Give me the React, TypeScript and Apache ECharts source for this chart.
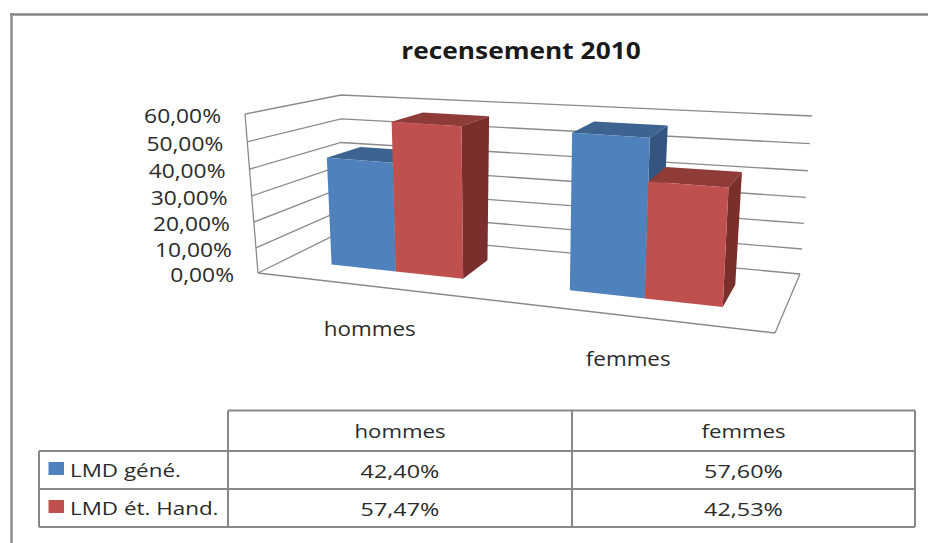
import React, { useEffect, useRef } from "react";
import * as echarts from "echarts";

const categories = ["hommes", "femmes"];
const seriesNames = ["LMD géné.", "LMD ét. Hand."];
const generalValues = [42.4, 57.6];
const handicapValues = [57.47, 42.53];
const yTicks = [0, 10, 20, 30, 40, 50, 60];
const titleText = "recensement 2010";

const FONT = "'Open Sans', sans-serif";
const INK = "#2b2b2b";
const GRID_LINE = "#8a8a8a";
const faces = [
  { front: "#4F81BD", top: "#3D6491", side: "#33557F" },
  { front: "#C0504D", top: "#8F3B38", side: "#7A2F2D" },
];

// flat helper grid: values go through the library's scales, then are projected to the 3D box
const G = { left: 100, top: 100, width: 500, height: 200 };
const P = {
  flb: [258, 273], flt: [245, 114],
  frb: [775, 333], frt: [785, 151],
  blb: [341, 232], blt: [341, 95],
  brb: [800, 274], brt: [812, 116],
};
const lerp = (a: number[], b: number[], k: number) => [a[0] + (b[0] - a[0]) * k, a[1] + (b[1] - a[1]) * k];
function project(t: number, v: number, w: number) {
  const u = t - 0.15 * t * (1 - t);
  const vv = v - 0.06 * v * (1 - v);
  const frontLow = lerp(P.flb, P.frb, u), frontHigh = lerp(P.flt, P.frt, u);
  const backLow = lerp(P.blb, P.brb, u), backHigh = lerp(P.blt, P.brt, u);
  return lerp(lerp(frontLow, frontHigh, vv), lerp(backLow, backHigh, vv), w);
}
const toT = (px: number) => (px - G.left) / G.width;
const toV = (py: number) => (G.top + G.height - py) / G.height;
const W_FRONT = 0.33, W_BACK = 0.72;

const pct = (n: number) => n.toFixed(2).replace(".", ",") + "%";

function label(text: string, x: number, y: number, size: number, align: string, scaleX = 1, weight = "normal", fill = INK) {
  return {
    type: "text", x, y, scaleX, silent: true,
    style: { text, fontFamily: FONT, fontSize: size, fontWeight: weight, fill, align, verticalAlign: "middle" },
  };
}
function seg(a: number[], b: number[], color = GRID_LINE, lineWidth = 1.3) {
  return { type: "line", shape: { x1: a[0], y1: a[1], x2: b[0], y2: b[1] }, style: { stroke: color, lineWidth } };
}

function barRender(seriesIdx: number) {
  return (params: any, api: any) => {
    const cat = api.value(0), val = api.value(1);
    const c = api.coord([cat, val]);
    const band = api.size([1, 0])[0];
    const barW = band / 3.5;
    const t0 = toT(c[0] + (seriesIdx - 1) * barW), t1 = toT(c[0] + seriesIdx * barW);
    const v = toV(c[1]);
    const f = faces[seriesIdx];
    const fa = project(t0, 0, W_FRONT), fb = project(t1, 0, W_FRONT);
    const fc = project(t1, v, W_FRONT), fd = project(t0, v, W_FRONT);
    const bb = project(t1, 0, W_BACK), bc = project(t1, v, W_BACK), bd = project(t0, v, W_BACK);
    return {
      type: "group",
      children: [
        { type: "polygon", shape: { points: [fb, bb, bc, fc] }, style: { fill: f.side } },
        { type: "polygon", shape: { points: [fd, fc, bc, bd] }, style: { fill: f.top } },
        { type: "polygon", shape: { points: [fa, fb, fc, fd] }, style: { fill: f.front } },
      ],
    };
  };
}

function wallRender(params: any, api: any) {
  const tick = api.value(1);
  const v = toV(api.coord([0, tick])[1]);
  const a = project(0, v, 0), b = project(0, v, 1), c = project(1, v, 1);
  const children: any[] = [
    { type: "polyline", shape: { points: [a, b, c] }, style: { stroke: GRID_LINE, lineWidth: 1.3, fill: "none" } },
    label(pct(tick), a[0] - 24, a[1] + 1, 20, "right", 1.14),
  ];
  if (tick === 0) {
    children.push(seg(project(0, 0, 0), project(1, 0, 0)));
    children.push(seg(project(1, 0, 0), project(1, 0, 1)));
    children.push(seg(project(0, 0, 0), project(0, 1, 0)));
  }
  return { type: "group", children };
}

function categoryRender(params: any, api: any) {
  const i = api.value(0);
  const c = api.coord([i, 0]);
  const p = project(toT(c[0]), 0, 0);
  return label(categories[i], p[0] - 3, p[1] + 42, 20, "center", 1.12);
}

const T = { x0: 39, x1: 228, x2: 572, x3: 915, y0: 410.5, y1: 451, y2: 489, y3: 527 };
function tableGraphics() {
  const els: any[] = [];
  const line = (x1: number, y1: number, x2: number, y2: number, c = "#888888", lw = 2) =>
    els.push({ type: "line", silent: true, shape: { x1, y1, x2, y2 }, style: { stroke: c, lineWidth: lw } });
  line(10, 14.5, 928, 14.5, "#858585", 2.5);
  line(11.5, 13, 11.5, 543, "#8c8c8c", 2.5);
  line(T.x1, T.y0, T.x3, T.y0);
  line(T.x0, T.y1, T.x3, T.y1);
  line(T.x0, T.y2, T.x3, T.y2);
  line(T.x0, T.y3, T.x3, T.y3);
  line(T.x0, T.y1, T.x0, T.y3);
  line(T.x1, T.y0, T.x1, T.y3);
  line(T.x2, T.y0, T.x2, T.y3);
  line(T.x3, T.y0, T.x3, T.y3);
  const colMid = [(T.x1 + T.x2) / 2 + 0, (T.x2 + T.x3) / 2];
  categories.forEach((c, i) => els.push(label(c, colMid[i], 431, 19, "center", 1.17)));
  const rows = [generalValues, handicapValues];
  const rowY = [470.5, 508.5];
  rows.forEach((vals, r) => {
    els.push({ type: "rect", silent: true, shape: { x: 48.5, y: rowY[r] - 8.5, width: 15.5, height: 13 }, style: { fill: faces[r].front } });
    els.push(label(seriesNames[r], 70, rowY[r] - 1, 19, "left", 1.18));
    vals.forEach((v, i) => els.push(label(pct(v), colMid[i], rowY[r], 19, "center", 1.23)));
  });
  els.push(label(titleText, 521, 50, 23, "center", 1.144, "bold", "#1a1a1a"));
  return els;
}

export default function App() {
  const ref = useRef<HTMLDivElement>(null);
  useEffect(() => {
    document.body.style.margin = "0";
    const chart = echarts.init(ref.current!, undefined, { renderer: "svg" });
    chart.setOption({
      animation: false,
      backgroundColor: "#ffffff",
      grid: { left: G.left, top: G.top, width: G.width, height: G.height },
      xAxis: { type: "category", data: categories, show: false },
      yAxis: { type: "value", min: 0, max: 60, interval: 10, show: false },
      graphic: tableGraphics(),
      series: [
        { type: "custom", name: "grille", silent: true, renderItem: wallRender, data: yTicks.map((t) => [0, t]) },
        { type: "custom", name: seriesNames[0], silent: true, renderItem: barRender(0), data: generalValues.map((v, i) => [i, v]) },
        { type: "custom", name: seriesNames[1], silent: true, renderItem: barRender(1), data: handicapValues.map((v, i) => [i, v]) },
        { type: "custom", name: "catégories", silent: true, renderItem: categoryRender, data: categories.map((_, i) => [i, 0]) },
      ],
    });
    return () => chart.dispose();
  }, []);
  return <div ref={ref} style={{ width: 928, height: 543 }} />;
}
